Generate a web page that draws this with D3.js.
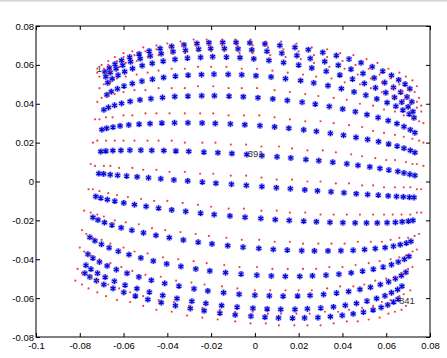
<!DOCTYPE html>
<html>
<head>
<meta charset="utf-8">
<script src="https://cdn.jsdelivr.net/npm/d3@7"></script>
<style>
  body { margin: 0; background: #fff; }
  svg text { font-family: "Liberation Sans", Arial, sans-serif; }
</style>
</head>
<body>
<div id="plot"></div>
<script>
// tick values
var xTicks = [-0.1, -0.08, -0.06, -0.04, -0.02, 0, 0.02, 0.04, 0.06, 0.08];
var yTicks = [-0.08, -0.06, -0.04, -0.02, 0, 0.02, 0.04, 0.06, 0.08];

// measured points (blue *), one row per grid line, 29 columns each
var blueX = [
  [-0.0685,-0.0665,-0.0639,-0.0609,-0.0572,-0.0529,-0.0483,-0.0433,-0.0380,-0.0324,-0.0265,-0.0210,-0.0147,-0.0086,-0.0023,0.0046,0.0114,0.0183,0.0244,0.0310,0.0372,0.0430,0.0485,0.0536,0.0584,0.0624,0.0657,0.0686,0.0708],
  [-0.0681,-0.0661,-0.0634,-0.0604,-0.0568,-0.0524,-0.0478,-0.0428,-0.0374,-0.0317,-0.0257,-0.0202,-0.0139,-0.0077,-0.0014,0.0055,0.0123,0.0192,0.0253,0.0319,0.0381,0.0439,0.0494,0.0545,0.0593,0.0633,0.0666,0.0695,0.0717],
  [-0.0672,-0.0652,-0.0625,-0.0595,-0.0559,-0.0515,-0.0469,-0.0419,-0.0365,-0.0308,-0.0248,-0.0193,-0.0130,-0.0068,-0.0005,0.0064,0.0131,0.0200,0.0260,0.0326,0.0388,0.0446,0.0500,0.0551,0.0598,0.0638,0.0671,0.0700,0.0722],
  [-0.0676,-0.0656,-0.0628,-0.0598,-0.0560,-0.0516,-0.0468,-0.0417,-0.0363,-0.0305,-0.0244,-0.0187,-0.0122,-0.0060,0.0005,0.0074,0.0140,0.0209,0.0269,0.0334,0.0395,0.0453,0.0507,0.0557,0.0604,0.0644,0.0676,0.0705,0.0727],
  [-0.0690,-0.0669,-0.0641,-0.0609,-0.0570,-0.0525,-0.0475,-0.0422,-0.0366,-0.0306,-0.0243,-0.0185,-0.0118,-0.0053,0.0014,0.0082,0.0148,0.0216,0.0276,0.0340,0.0401,0.0459,0.0512,0.0563,0.0609,0.0649,0.0681,0.0710,0.0731],
  [-0.0699,-0.0677,-0.0648,-0.0616,-0.0576,-0.0529,-0.0479,-0.0425,-0.0367,-0.0306,-0.0241,-0.0181,-0.0112,-0.0046,0.0023,0.0090,0.0155,0.0223,0.0281,0.0345,0.0405,0.0462,0.0515,0.0565,0.0611,0.0650,0.0681,0.0710,0.0731],
  [-0.0704,-0.0681,-0.0649,-0.0612,-0.0571,-0.0521,-0.0471,-0.0416,-0.0361,-0.0302,-0.0233,-0.0169,-0.0105,-0.0037,0.0032,0.0101,0.0164,0.0233,0.0292,0.0356,0.0420,0.0471,0.0525,0.0571,0.0612,0.0653,0.0681,0.0708,0.0731],
  [-0.0713,-0.0691,-0.0661,-0.0627,-0.0586,-0.0538,-0.0486,-0.0430,-0.0370,-0.0307,-0.0240,-0.0178,-0.0107,-0.0039,0.0032,0.0098,0.0162,0.0228,0.0286,0.0348,0.0407,0.0463,0.0515,0.0564,0.0609,0.0647,0.0678,0.0706,0.0727],
  [-0.0727,-0.0704,-0.0674,-0.0640,-0.0599,-0.0550,-0.0497,-0.0440,-0.0380,-0.0316,-0.0248,-0.0186,-0.0114,-0.0045,0.0027,0.0093,0.0157,0.0223,0.0281,0.0343,0.0402,0.0458,0.0510,0.0559,0.0604,0.0642,0.0673,0.0701,0.0722],
  [-0.0740,-0.0717,-0.0687,-0.0653,-0.0611,-0.0562,-0.0509,-0.0452,-0.0391,-0.0327,-0.0259,-0.0196,-0.0124,-0.0054,0.0018,0.0084,0.0148,0.0214,0.0272,0.0334,0.0393,0.0449,0.0501,0.0550,0.0595,0.0633,0.0664,0.0692,0.0713],
  [-0.0754,-0.0731,-0.0701,-0.0666,-0.0624,-0.0575,-0.0521,-0.0464,-0.0403,-0.0338,-0.0270,-0.0206,-0.0134,-0.0063,0.0009,0.0075,0.0139,0.0205,0.0263,0.0325,0.0384,0.0440,0.0492,0.0541,0.0586,0.0624,0.0655,0.0683,0.0704],
  [-0.0763,-0.0740,-0.0710,-0.0675,-0.0633,-0.0584,-0.0530,-0.0473,-0.0412,-0.0347,-0.0278,-0.0215,-0.0143,-0.0072,0.0000,0.0066,0.0129,0.0195,0.0252,0.0314,0.0373,0.0428,0.0480,0.0528,0.0573,0.0611,0.0642,0.0669,0.0690],
  [-0.0772,-0.0749,-0.0719,-0.0684,-0.0642,-0.0593,-0.0539,-0.0482,-0.0421,-0.0356,-0.0288,-0.0224,-0.0152,-0.0081,-0.0009,0.0056,0.0118,0.0183,0.0240,0.0301,0.0359,0.0413,0.0464,0.0512,0.0556,0.0594,0.0624,0.0652,0.0672],
  [-0.0777,-0.0754,-0.0724,-0.0690,-0.0648,-0.0599,-0.0546,-0.0489,-0.0428,-0.0363,-0.0295,-0.0232,-0.0160,-0.0090,-0.0018,0.0046,0.0108,0.0172,0.0227,0.0288,0.0345,0.0399,0.0449,0.0496,0.0540,0.0577,0.0607,0.0634,0.0654]
];
var blueY = [
  [0.0564,0.0584,0.0604,0.0623,0.0640,0.0656,0.0671,0.0684,0.0695,0.0703,0.0710,0.0714,0.0716,0.0716,0.0713,0.0708,0.0700,0.0690,0.0678,0.0664,0.0648,0.0630,0.0611,0.0590,0.0568,0.0546,0.0523,0.0501,0.0477],
  [0.0539,0.0560,0.0580,0.0598,0.0616,0.0632,0.0646,0.0658,0.0668,0.0675,0.0681,0.0684,0.0684,0.0682,0.0677,0.0670,0.0660,0.0648,0.0633,0.0617,0.0598,0.0578,0.0556,0.0533,0.0509,0.0484,0.0460,0.0435,0.0410],
  [0.0508,0.0528,0.0547,0.0565,0.0581,0.0596,0.0608,0.0619,0.0628,0.0635,0.0639,0.0642,0.0640,0.0637,0.0631,0.0623,0.0612,0.0599,0.0584,0.0567,0.0548,0.0527,0.0505,0.0482,0.0457,0.0433,0.0408,0.0384,0.0359],
  [0.0446,0.0462,0.0477,0.0491,0.0504,0.0516,0.0526,0.0535,0.0542,0.0547,0.0550,0.0552,0.0551,0.0549,0.0544,0.0538,0.0529,0.0519,0.0507,0.0493,0.0478,0.0461,0.0444,0.0425,0.0406,0.0387,0.0367,0.0347,0.0328],
  [0.0369,0.0381,0.0392,0.0402,0.0412,0.0420,0.0426,0.0432,0.0437,0.0439,0.0441,0.0441,0.0439,0.0436,0.0431,0.0425,0.0417,0.0408,0.0398,0.0386,0.0373,0.0359,0.0344,0.0329,0.0313,0.0298,0.0282,0.0266,0.0251],
  [0.0267,0.0274,0.0280,0.0286,0.0291,0.0295,0.0298,0.0301,0.0302,0.0302,0.0301,0.0299,0.0296,0.0292,0.0287,0.0281,0.0274,0.0266,0.0258,0.0248,0.0238,0.0227,0.0216,0.0205,0.0193,0.0182,0.0171,0.0160,0.0149],
  [0.0154,0.0157,0.0159,0.0160,0.0161,0.0161,0.0160,0.0159,0.0157,0.0155,0.0151,0.0148,0.0144,0.0139,0.0133,0.0127,0.0121,0.0113,0.0107,0.0099,0.0091,0.0083,0.0075,0.0067,0.0059,0.0052,0.0044,0.0037,0.0031],
  [0.0041,0.0039,0.0035,0.0032,0.0028,0.0024,0.0019,0.0014,0.0008,0.0003,-0.0003,-0.0009,-0.0014,-0.0020,-0.0026,-0.0032,-0.0037,-0.0043,-0.0048,-0.0053,-0.0058,-0.0063,-0.0067,-0.0070,-0.0074,-0.0077,-0.0079,-0.0081,-0.0082],
  [-0.0077,-0.0085,-0.0093,-0.0101,-0.0110,-0.0119,-0.0128,-0.0137,-0.0146,-0.0154,-0.0163,-0.0170,-0.0177,-0.0184,-0.0190,-0.0196,-0.0200,-0.0204,-0.0207,-0.0210,-0.0212,-0.0213,-0.0213,-0.0213,-0.0212,-0.0210,-0.0207,-0.0204,-0.0200],
  [-0.0185,-0.0198,-0.0211,-0.0224,-0.0238,-0.0251,-0.0264,-0.0277,-0.0289,-0.0301,-0.0312,-0.0321,-0.0330,-0.0338,-0.0344,-0.0349,-0.0353,-0.0356,-0.0357,-0.0357,-0.0356,-0.0354,-0.0350,-0.0345,-0.0340,-0.0333,-0.0325,-0.0317,-0.0308],
  [-0.0287,-0.0305,-0.0323,-0.0341,-0.0359,-0.0376,-0.0393,-0.0409,-0.0424,-0.0437,-0.0450,-0.0460,-0.0469,-0.0476,-0.0482,-0.0486,-0.0488,-0.0488,-0.0485,-0.0482,-0.0477,-0.0470,-0.0461,-0.0451,-0.0440,-0.0428,-0.0414,-0.0400,-0.0385],
  [-0.0374,-0.0394,-0.0414,-0.0434,-0.0453,-0.0472,-0.0491,-0.0508,-0.0524,-0.0538,-0.0552,-0.0563,-0.0572,-0.0580,-0.0585,-0.0588,-0.0590,-0.0589,-0.0586,-0.0581,-0.0574,-0.0566,-0.0555,-0.0544,-0.0530,-0.0516,-0.0500,-0.0484,-0.0467],
  [-0.0431,-0.0451,-0.0472,-0.0492,-0.0513,-0.0533,-0.0551,-0.0569,-0.0586,-0.0602,-0.0616,-0.0627,-0.0638,-0.0646,-0.0652,-0.0656,-0.0658,-0.0658,-0.0655,-0.0651,-0.0645,-0.0637,-0.0627,-0.0615,-0.0602,-0.0588,-0.0572,-0.0556,-0.0539],
  [-0.0472,-0.0491,-0.0510,-0.0530,-0.0550,-0.0570,-0.0589,-0.0607,-0.0623,-0.0639,-0.0653,-0.0665,-0.0677,-0.0686,-0.0693,-0.0698,-0.0702,-0.0703,-0.0702,-0.0700,-0.0695,-0.0689,-0.0681,-0.0672,-0.0661,-0.0648,-0.0635,-0.0620,-0.0605]
];

// reference points (red .), same ordering
var redX = [
  [-0.072,-0.070,-0.067,-0.064,-0.060,-0.056,-0.051,-0.045,-0.040,-0.034,-0.028,-0.022,-0.015,-0.009,-0.002,0.005,0.012,0.019,0.026,0.033,0.039,0.045,0.051,0.056,0.061,0.066,0.069,0.072,0.074],
  [-0.072,-0.069,-0.067,-0.063,-0.060,-0.055,-0.050,-0.045,-0.039,-0.033,-0.027,-0.021,-0.015,-0.008,-0.001,0.006,0.013,0.020,0.027,0.033,0.040,0.046,0.052,0.057,0.062,0.066,0.070,0.073,0.075],
  [-0.071,-0.068,-0.066,-0.062,-0.059,-0.054,-0.049,-0.044,-0.038,-0.032,-0.026,-0.020,-0.014,-0.007,-0.001,0.007,0.014,0.021,0.027,0.034,0.041,0.047,0.053,0.058,0.063,0.067,0.070,0.074,0.076],
  [-0.071,-0.069,-0.066,-0.063,-0.059,-0.054,-0.049,-0.044,-0.038,-0.032,-0.026,-0.020,-0.013,-0.006,0.001,0.008,0.015,0.022,0.028,0.035,0.041,0.048,0.053,0.058,0.063,0.068,0.071,0.074,0.076],
  [-0.072,-0.070,-0.067,-0.064,-0.060,-0.055,-0.050,-0.044,-0.038,-0.032,-0.026,-0.019,-0.012,-0.006,0.001,0.009,0.016,0.023,0.029,0.036,0.042,0.048,0.054,0.059,0.064,0.068,0.072,0.075,0.077],
  [-0.073,-0.071,-0.068,-0.065,-0.060,-0.056,-0.050,-0.045,-0.039,-0.032,-0.025,-0.019,-0.012,-0.005,0.002,0.009,0.016,0.023,0.030,0.036,0.043,0.049,0.054,0.059,0.064,0.068,0.072,0.075,0.077],
  [-0.074,-0.072,-0.068,-0.064,-0.060,-0.055,-0.049,-0.044,-0.038,-0.032,-0.024,-0.018,-0.011,-0.004,0.003,0.011,0.017,0.024,0.031,0.037,0.044,0.049,0.055,0.060,0.064,0.069,0.072,0.074,0.077],
  [-0.075,-0.073,-0.069,-0.066,-0.062,-0.056,-0.051,-0.045,-0.039,-0.032,-0.025,-0.019,-0.011,-0.004,0.003,0.010,0.017,0.024,0.030,0.037,0.043,0.049,0.054,0.059,0.064,0.068,0.071,0.074,0.076],
  [-0.076,-0.074,-0.071,-0.067,-0.063,-0.058,-0.052,-0.046,-0.040,-0.033,-0.026,-0.020,-0.012,-0.005,0.003,0.010,0.016,0.023,0.030,0.036,0.042,0.048,0.054,0.059,0.063,0.067,0.071,0.074,0.076],
  [-0.078,-0.075,-0.072,-0.069,-0.064,-0.059,-0.053,-0.047,-0.041,-0.034,-0.027,-0.021,-0.013,-0.006,0.002,0.009,0.016,0.022,0.029,0.035,0.041,0.047,0.053,0.058,0.062,0.066,0.070,0.073,0.075],
  [-0.079,-0.077,-0.074,-0.070,-0.066,-0.060,-0.055,-0.049,-0.042,-0.035,-0.028,-0.022,-0.014,-0.007,0.001,0.008,0.015,0.022,0.028,0.034,0.040,0.046,0.052,0.057,0.062,0.066,0.069,0.072,0.074],
  [-0.080,-0.078,-0.075,-0.071,-0.066,-0.061,-0.056,-0.050,-0.043,-0.036,-0.029,-0.023,-0.015,-0.008,0.000,0.007,0.014,0.020,0.026,0.033,0.039,0.045,0.050,0.055,0.060,0.064,0.067,0.070,0.072],
  [-0.081,-0.079,-0.075,-0.072,-0.067,-0.062,-0.057,-0.051,-0.044,-0.037,-0.030,-0.024,-0.016,-0.009,-0.001,0.006,0.012,0.019,0.025,0.032,0.038,0.043,0.049,0.054,0.058,0.062,0.066,0.068,0.071],
  [-0.082,-0.079,-0.076,-0.072,-0.068,-0.063,-0.057,-0.051,-0.045,-0.038,-0.031,-0.024,-0.017,-0.009,-0.002,0.005,0.011,0.018,0.024,0.030,0.036,0.042,0.047,0.052,0.057,0.061,0.064,0.067,0.069]
];
var redY = [
  [0.058,0.060,0.062,0.064,0.066,0.067,0.069,0.070,0.071,0.072,0.073,0.073,0.073,0.073,0.073,0.072,0.072,0.071,0.069,0.068,0.066,0.065,0.063,0.061,0.058,0.056,0.054,0.052,0.049],
  [0.056,0.058,0.060,0.062,0.064,0.065,0.067,0.068,0.069,0.070,0.070,0.070,0.070,0.070,0.070,0.069,0.068,0.067,0.065,0.064,0.062,0.060,0.058,0.055,0.053,0.050,0.048,0.046,0.043],
  [0.054,0.056,0.057,0.059,0.061,0.062,0.064,0.065,0.066,0.066,0.067,0.067,0.067,0.066,0.066,0.065,0.064,0.063,0.061,0.059,0.058,0.055,0.053,0.051,0.048,0.046,0.044,0.041,0.039],
  [0.048,0.050,0.051,0.053,0.054,0.055,0.056,0.057,0.058,0.058,0.059,0.059,0.059,0.058,0.058,0.057,0.056,0.055,0.054,0.053,0.051,0.050,0.048,0.046,0.044,0.042,0.040,0.038,0.036],
  [0.041,0.043,0.044,0.045,0.046,0.047,0.047,0.048,0.048,0.048,0.049,0.049,0.048,0.048,0.048,0.047,0.046,0.045,0.044,0.043,0.042,0.040,0.039,0.037,0.036,0.034,0.033,0.031,0.030],
  [0.032,0.032,0.033,0.033,0.034,0.034,0.035,0.035,0.035,0.035,0.035,0.035,0.034,0.034,0.034,0.033,0.032,0.031,0.031,0.030,0.029,0.028,0.026,0.025,0.024,0.023,0.022,0.021,0.020],
  [0.020,0.021,0.021,0.021,0.021,0.021,0.021,0.021,0.021,0.020,0.020,0.020,0.019,0.019,0.018,0.018,0.017,0.016,0.016,0.015,0.014,0.013,0.012,0.011,0.011,0.010,0.009,0.009,0.008],
  [0.009,0.008,0.008,0.008,0.007,0.007,0.006,0.006,0.005,0.005,0.004,0.004,0.003,0.003,0.002,0.001,0.001,0.000,0.000,-0.001,-0.001,-0.002,-0.002,-0.003,-0.003,-0.003,-0.003,-0.004,-0.004],
  [-0.004,-0.004,-0.005,-0.006,-0.007,-0.008,-0.009,-0.010,-0.010,-0.011,-0.012,-0.013,-0.014,-0.014,-0.015,-0.015,-0.016,-0.016,-0.017,-0.017,-0.017,-0.017,-0.017,-0.017,-0.017,-0.017,-0.017,-0.016,-0.016],
  [-0.015,-0.016,-0.017,-0.018,-0.020,-0.021,-0.022,-0.024,-0.025,-0.026,-0.027,-0.028,-0.029,-0.030,-0.030,-0.031,-0.031,-0.032,-0.032,-0.032,-0.032,-0.031,-0.031,-0.031,-0.030,-0.029,-0.029,-0.028,-0.027],
  [-0.025,-0.027,-0.029,-0.030,-0.032,-0.034,-0.036,-0.037,-0.039,-0.040,-0.041,-0.042,-0.043,-0.044,-0.044,-0.045,-0.045,-0.045,-0.045,-0.044,-0.044,-0.043,-0.042,-0.041,-0.040,-0.039,-0.038,-0.036,-0.035],
  [-0.034,-0.036,-0.038,-0.040,-0.042,-0.044,-0.046,-0.048,-0.049,-0.051,-0.052,-0.053,-0.054,-0.055,-0.056,-0.056,-0.056,-0.056,-0.056,-0.055,-0.054,-0.054,-0.053,-0.051,-0.050,-0.049,-0.047,-0.045,-0.044],
  [-0.045,-0.047,-0.049,-0.051,-0.053,-0.055,-0.057,-0.059,-0.061,-0.062,-0.064,-0.065,-0.066,-0.067,-0.067,-0.068,-0.068,-0.068,-0.068,-0.067,-0.067,-0.066,-0.065,-0.064,-0.062,-0.061,-0.059,-0.058,-0.056],
  [-0.051,-0.053,-0.055,-0.057,-0.059,-0.061,-0.062,-0.064,-0.066,-0.067,-0.069,-0.070,-0.071,-0.072,-0.073,-0.073,-0.074,-0.074,-0.074,-0.074,-0.073,-0.072,-0.072,-0.071,-0.070,-0.068,-0.067,-0.066,-0.064]
];

// point number labels
var labelText = ["1", "391", "841"];
var labelX = [-0.0722, -0.0033, 0.0658];
var labelY = [0.0580, 0.0142, -0.0615];

var W = 447, H = 358;
var margin = { top: 26, right: 17, bottom: 21, left: 36 },
    width = W - margin.left - margin.right,
    height = H - margin.top - margin.bottom;

var svg = d3.select("#plot").append("svg")
    .attr("width", W)
    .attr("height", H);

// thin grey strip along the very top of the figure
svg.append("rect").attr("x", 0).attr("y", 0).attr("width", W).attr("height", 1.5).attr("fill", "#d4d4d4");

var g = svg.append("g")
    .attr("transform", "translate(" + margin.left + "," + margin.top + ")");

var xScale = d3.scaleLinear().domain([-0.1, 0.08]).range([0, width]);
var yScale = d3.scaleLinear().domain([-0.08, 0.08]).range([height, 0]);

function fmt(d) { return Math.abs(d) < 1e-9 ? "0" : String(+d.toFixed(2)); }

// axes with inward ticks on all four sides
g.append("g").attr("class", "axis")
    .attr("transform", "translate(0," + height + ")")
    .call(d3.axisBottom(xScale).tickValues(xTicks).tickSizeInner(-4).tickSizeOuter(0).tickPadding(5).tickFormat(fmt));
g.append("g").attr("class", "axis")
    .call(d3.axisLeft(yScale).tickValues(yTicks).tickSizeInner(-4).tickSizeOuter(0).tickPadding(2).tickFormat(fmt));
g.append("g").attr("class", "axis")
    .call(d3.axisTop(xScale).tickValues(xTicks).tickSizeInner(-4).tickSizeOuter(0).tickFormat(""));
g.append("g").attr("class", "axis")
    .attr("transform", "translate(" + width + ",0)")
    .call(d3.axisRight(yScale).tickValues(yTicks).tickSizeInner(-4).tickSizeOuter(0).tickFormat(""));

g.selectAll(".axis .domain").remove();
g.selectAll(".axis line").attr("stroke", "#000");
g.selectAll(".axis text").attr("fill", "#000").style("font-size", "9.5px");

// flatten rows into point lists
var bluePts = [], redPts = [];
blueX.forEach(function(row, i) {
    row.forEach(function(v, j) { bluePts.push({ x: v, y: blueY[i][j] }); });
});
redX.forEach(function(row, i) {
    row.forEach(function(v, j) { redPts.push({ x: v, y: redY[i][j] }); });
});

var pts = g.append("g").attr("class", "scatter");

// blue asterisks: soft halo + star
pts.selectAll("circle.halo")
    .data(bluePts).enter()
    .append("circle")
    .attr("class", "halo")
    .attr("cx", function(d) { return xScale(d.x); })
    .attr("cy", function(d) { return yScale(d.y); })
    .attr("r", 3.2)
    .attr("fill", "#8c8cff")
    .attr("opacity", 0.75);

var star = d3.symbol().type(d3.symbolAsterisk || d3.symbolCross).size(22);
pts.selectAll("path.star")
    .data(bluePts).enter()
    .append("path")
    .attr("class", "star")
    .attr("transform", function(d) { return "translate(" + xScale(d.x) + "," + yScale(d.y) + ")"; })
    .attr("d", star)
    .attr("fill", "none")
    .attr("stroke", "#0000d8")
    .attr("stroke-width", 1.1);

pts.selectAll("circle.core")
    .data(bluePts).enter()
    .append("circle")
    .attr("class", "core")
    .attr("cx", function(d) { return xScale(d.x); })
    .attr("cy", function(d) { return yScale(d.y); })
    .attr("r", 1.3)
    .attr("fill", "#1010c8");

// red dots
pts.selectAll("circle.red")
    .data(redPts).enter()
    .append("circle")
    .attr("class", "red")
    .attr("cx", function(d) { return xScale(d.x); })
    .attr("cy", function(d) { return yScale(d.y); })
    .attr("r", 1.1)
    .attr("fill", "#f02020")
    .attr("opacity", 0.85);

// labels
g.selectAll("text.lbl")
    .data(labelText).enter()
    .append("text")
    .attr("class", "lbl")
    .attr("x", function(d, i) { return xScale(labelX[i]); })
    .attr("y", function(d, i) { return yScale(labelY[i]); })
    .attr("dy", "0.35em")
    .style("font-size", "9.5px")
    .attr("fill", "#333")
    .text(function(d) { return d; });

// axes box
g.append("rect")
    .attr("width", width)
    .attr("height", height)
    .attr("fill", "none")
    .attr("stroke", "#000")
    .attr("stroke-width", 1);
</script>
</body>
</html>
